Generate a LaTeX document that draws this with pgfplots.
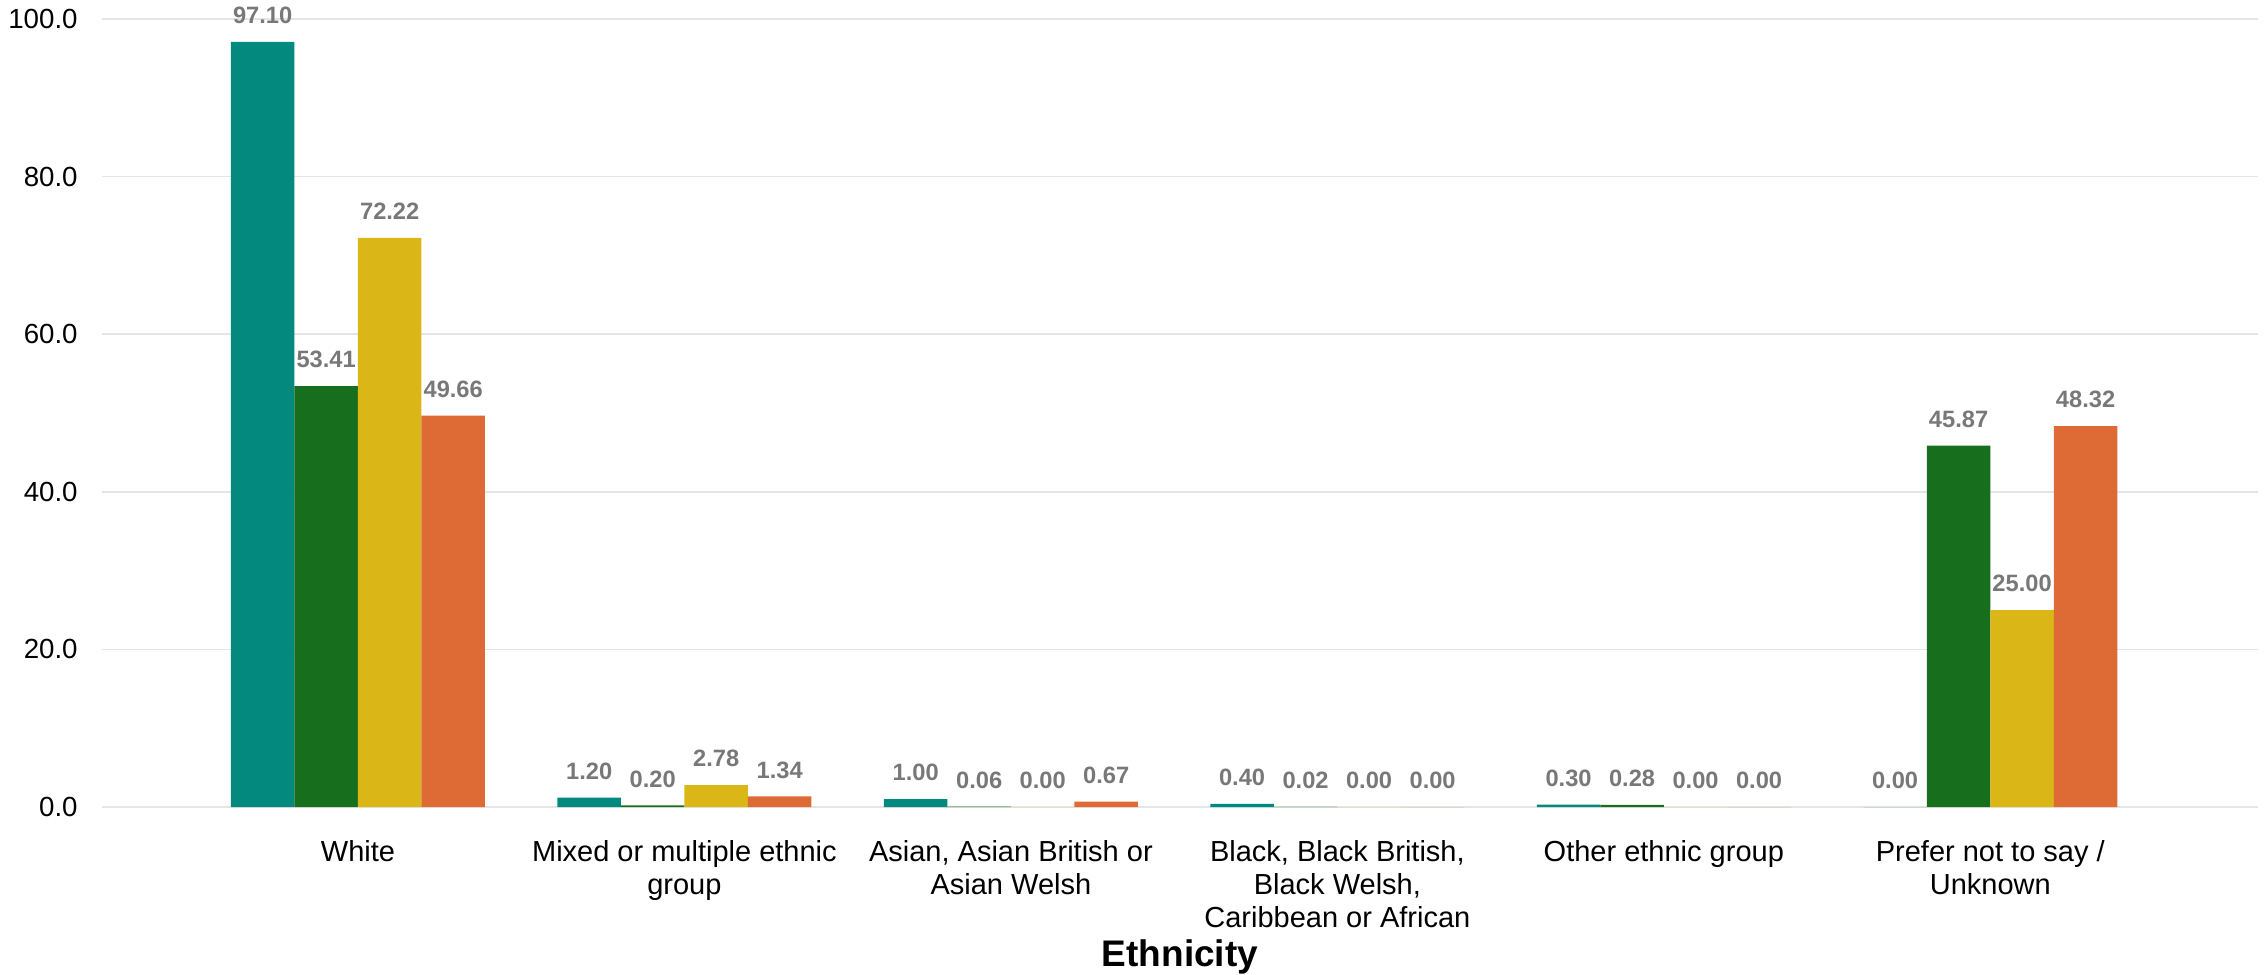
\documentclass[border=0pt]{standalone}
\usepackage{pgfplots}
\pgfplotsset{compat=1.18}
\usepackage{fontspec}
\setmainfont{Liberation Sans}
\definecolor{cteal}{RGB}{3,137,125}
\definecolor{cgreen}{RGB}{23,110,29}
\definecolor{cyellow}{RGB}{219,182,23}
\definecolor{corange}{RGB}{222,106,53}
\definecolor{labgray}{RGB}{120,120,120}
\definecolor{gridgray}{RGB}{229,229,229}
\pgfplotsset{/pgf/number format/assume math mode=true}
\begin{document}
\begin{tikzpicture}
\begin{axis}[
  at={(0,0)}, anchor=south west,
  scale only axis, width=646.8bp, height=236.4bp,
  ybar=0pt, bar width=19.05bp,
  xmin=-0.784, xmax=5.82, ymin=0, ymax=100,
  xtick={0,1,2,3,4,5},
  xticklabels={White,{Mixed or multiple ethnic\\group},{Asian, Asian British or\\Asian Welsh},{Black, Black British,\\Black Welsh,\\Caribbean or African},{Other ethnic group},{Prefer not to say /\\Unknown}},
  ytick={0,20,40,60,80,100},
  yticklabel style={/pgf/number format/.cd, fixed, fixed zerofill, precision=1, /tikz/.cd, font=\fontsize{8.3bp}{10bp}\selectfont, xshift=-3.8bp},
  xticklabel style={font=\fontsize{8.7bp}{9.9bp}\selectfont, align=center, yshift=-6.4bp},
  ymajorgrids, grid style={gridgray, line width=0.5bp},
  axis line style={draw=none}, tick style={draw=none}, major tick length=0pt,
  xlabel={Ethnicity},
  xlabel style={font=\bfseries\fontsize{11.1bp}{13bp}\selectfont, at={(axis description cs:0.5,0)}, anchor=center, yshift=-45bp},
  nodes near coords={\pgfmathprintnumber[fixed,fixed zerofill,precision=2]{\pgfplotspointmeta}},
  every node near coord/.append style={font=\bfseries\fontsize{7.1bp}{8bp}\selectfont, text=labgray, anchor=south, yshift=1.9bp},
  clip=false,
]
\addplot[fill=cteal, draw=none] coordinates {(0,97.10) (1,1.20) (2,1.00) (3,0.40) (4,0.30) (5,0.00)};
\addplot[fill=cgreen, draw=none] coordinates {(0,53.41) (1,0.20) (2,0.06) (3,0.02) (4,0.28) (5,45.87)};
\addplot[fill=cyellow, draw=none] coordinates {(0,72.22) (1,2.78) (2,0.00) (3,0.00) (4,0.00) (5,25.00)};
\addplot[fill=corange, draw=none] coordinates {(0,49.66) (1,1.34) (2,0.67) (3,0.00) (4,0.00) (5,48.32)};
\end{axis}
\pgfresetboundingbox
\path[use as bounding box] (-30.6bp,-50.4bp) rectangle (648.6bp,242.1bp);
\end{tikzpicture}
\end{document}
